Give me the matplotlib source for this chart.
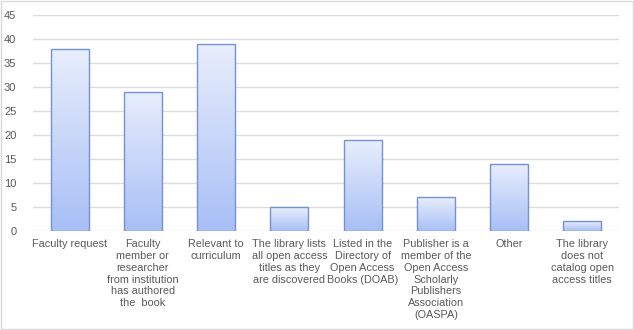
import matplotlib.pyplot as plt
import numpy as np
from matplotlib.colors import LinearSegmentedColormap
from matplotlib.patches import Rectangle

categories = [
    'Faculty request',
    'Faculty\nmember or\nresearcher\nfrom institution\nhas authored\nthe  book',
    'Relevant to\ncurriculum',
    'The library lists\nall open access\ntitles as they\nare discovered',
    'Listed in the\nDirectory of\nOpen Access\nBooks (DOAB)',
    'Publisher is a\nmember of the\nOpen Access\nScholarly\nPublishers\nAssociation\n(OASPA)',
    'Other',
    'The library\ndoes not\ncatalog open\naccess titles',
]
counts = [38, 29, 39, 5, 19, 7, 14, 2]
yticks = [0, 5, 10, 15, 20, 25, 30, 35, 40, 45]

text_color = '#595959'
plt.rcParams['font.family'] = ['Liberation Sans', 'DejaVu Sans']

fig = plt.figure(figsize=(6.34, 3.30), dpi=100)
ax = fig.add_axes([33 / 634, 99 / 330, 586 / 634, 216 / 330])

x = np.arange(len(categories))
bars = ax.bar(x, counts, width=0.52, facecolor='none', edgecolor='#7391d3',
              linewidth=1.0, zorder=3)

# vertical gradient inside each bar (light at top, darker blue at bottom)
cmap = LinearSegmentedColormap.from_list('grad', ['#a8bff6', '#e8eefc'])
grad = np.linspace(0, 1, 256).reshape(-1, 1)
for b in bars:
    x0, y0 = b.get_x(), b.get_y()
    w, h = b.get_width(), b.get_height()
    im = ax.imshow(grad, cmap=cmap, origin='lower', aspect='auto',
                   extent=(x0, x0 + w, y0, y0 + h), zorder=2)
    im.set_clip_path(Rectangle((x0, y0), w, h, transform=ax.transData))

ax.set_xlim(-0.5, len(categories) - 0.5)
ax.set_ylim(0, 45)
ax.set_yticks(yticks)
ax.set_xticks(x)
ax.set_xticklabels(categories, fontsize=7.8, color=text_color, linespacing=1.22)
ax.tick_params(axis='y', labelsize=8, labelcolor=text_color, length=0, pad=12)
ax.tick_params(axis='x', length=0, pad=6)
ax.grid(axis='y', color='#dcdcdc', linewidth=1.0, zorder=0)
ax.set_axisbelow(True)
for s in ax.spines.values():
    s.set_visible(False)

# light frame around the figure
fig.patches.append(Rectangle((0.002, 0.004), 0.996, 0.992, transform=fig.transFigure,
                             fill=False, edgecolor='#d9d9d9', linewidth=1.0))

fig.savefig('out.png', dpi=100)
